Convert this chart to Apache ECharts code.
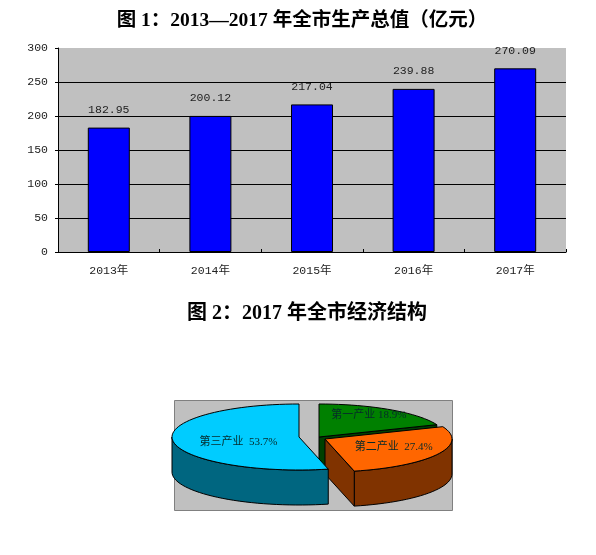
<!DOCTYPE html>
<html><head><meta charset="utf-8">
<style>html,body{margin:0;padding:0;background:#fff}#c{width:596px;height:555px}</style>
<script src="https://cdn.jsdelivr.net/npm/echarts@6/dist/echarts.min.js"></script>
</head><body><div id="c"></div>
<script>
const years = ['2013年','2014年','2015年','2016年','2017年'];
const gdp = [182.95,200.12,217.04,239.88,270.09];
const sectors = ['第一产业','第二产业','第三产业'];
const shares = [18.9,27.4,53.7];
const sectorLabels = ['第一产业 18.9%','第二产业  27.4%','第三产业  53.7%'];
const topColors = ['#008000','#FF6600','#00CCFF'];
const sideColors = ['#004000','#803300','#006680'];
const centers = [[319,437],[325,439],[299,437]];
const labelAt = [[0.7,0.8],[0.61,0.53],[0.48,1.3]];
const RX=127, RY=33, DEPTH=35;
const mono = '"Liberation Mono","Noto Sans CJK SC",monospace';
const serif = '"Liberation Serif","Noto Sans CJK SC",serif';

let cum = 0;
const pieData = shares.map((v,i)=>{const s=cum; cum+=v; return [v,s,i];});
const rad = d=>d*Math.PI/180;
function pt(c,a,dy){return [c[0]+RX*Math.sin(rad(a)), c[1]-RY*Math.cos(rad(a))+(dy||0)];}
function arc(c,a0,a1,dy){const p=[];const n=Math.max(2,Math.ceil((a1-a0)/3));
  for(let k=0;k<=n;k++)p.push(pt(c,a0+(a1-a0)*k/n,dy));return p;}
function renderSlice(params,api){
  const v=api.value(0), s=api.value(1), i=api.value(2);
  const a0=s*3.6, a1=(s+v)*3.6, c=centers[i];
  const kids=[];
  const st=f=>({fill:f,stroke:'#000',lineWidth:1});
  const f0=Math.max(a0,90), f1=Math.min(a1,270);
  if(f1>f0){
    const t=arc(c,f0,f1,0), b=arc(c,f0,f1,DEPTH).reverse();
    kids.push({type:'polygon',shape:{points:t.concat(b)},style:st(sideColors[i])});
  }
  if(Math.sin(rad(a1))>1e-6){
    const e=pt(c,a1,0);
    kids.push({type:'polygon',shape:{points:[c,e,[e[0],e[1]+DEPTH],[c[0],c[1]+DEPTH]]},style:st(sideColors[i])});
  }
  kids.push({type:'polygon',shape:{points:[c].concat(arc(c,a0,a1,0))},style:st(topColors[i])});
  const m=(a0+a1)/2;
  kids.push({type:'text',style:{
    text:sectorLabels[i],
    x:c[0]+RX*labelAt[i][0]*Math.sin(rad(m)),
    y:c[1]-RY*labelAt[i][1]*Math.cos(rad(m)),
    textAlign:'center',textVerticalAlign:'middle',
    font:'11px '+serif,fill:'#062a2a'}});
  return {type:'group',children:kids};
}

const chart = echarts.init(document.getElementById('c'));
chart.setOption({
  animation:false,
  backgroundColor:'#fff',
  title:[
    {text:'图 1：2013—2017 年全市生产总值（亿元）',left:297,top:6,textAlign:'center',
     textStyle:{fontSize:19.5,fontWeight:'bold',color:'#000',fontFamily:serif}},
    {text:'图 2：2017 年全市经济结构',left:307,top:299,textAlign:'center',
     textStyle:{fontSize:20,fontWeight:'bold',color:'#000',fontFamily:serif},
     padding:[5,10,5,0]}
  ],
  grid:{left:58,right:30,top:48,bottom:303,show:true,backgroundColor:'#C0C0C0',borderWidth:0,containLabel:false},
  xAxis:{type:'category',data:years,
    axisLine:{lineStyle:{color:'#000',width:1}},
    axisTick:{show:true,inside:true,alignWithLabel:false,length:3,lineStyle:{color:'#000'}},
    axisLabel:{color:'#222',fontSize:11.5,fontFamily:mono,margin:13}},
  yAxis:{type:'value',min:0,max:300,interval:50,
    axisLine:{show:true,lineStyle:{color:'#000',width:1}},
    axisTick:{show:true,length:3,lineStyle:{color:'#000'}},
    axisLabel:{color:'#222',fontSize:11.5,fontFamily:mono,margin:10},
    splitLine:{show:true,showMaxLine:false,lineStyle:{color:'#000',width:1}}},
  graphic:[{type:'rect',z:-1,shape:{x:174.5,y:400.5,width:278,height:110},
    style:{fill:'#C0C0C0',stroke:'#808080',lineWidth:1}}],
  series:[
    {type:'bar',name:'全市生产总值',data:gdp,barWidth:42,
     itemStyle:{color:'#0000FF',borderColor:'#000',borderWidth:1},
     label:{show:true,position:'top',distance:12,color:'#222',fontSize:11.5,fontFamily:mono,
       formatter:p=>p.value.toFixed(2)}},
    {type:'custom',name:'经济结构',coordinateSystem:'none',silent:true,z:5,
     renderItem:renderSlice,data:pieData,clip:false}
  ]
});
</script></body></html>
